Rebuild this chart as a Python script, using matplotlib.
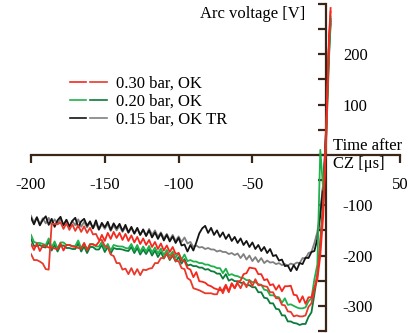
import numpy as np
import matplotlib
matplotlib.use("Agg")
import matplotlib.pyplot as plt
from matplotlib.lines import Line2D
from matplotlib.legend_handler import HandlerTuple
from matplotlib.ticker import FuncFormatter, FixedLocator

plt.rcParams['font.family'] = ['Liberation Serif', 'DejaVu Serif']
plt.rcParams['font.size'] = 12
plt.rcParams['axes.unicode_minus'] = False

# time grid (µs) of the sampled traces: -200 ... -2 every 2 µs, then tail
time_main = list(range(-200, 0, 2))
time_tail = [-1, 0, 1, 2, 3]
time_us = time_main + time_tail

# 0.15 bar, OK TR (black)
v015_a = [-125, -138, -124, -140, -129, -122, -139, -127, -143, -130,
          -123, -140, -129, -143, -131, -125, -144, -132, -127, -141,
          -132, -146, -130, -148, -135, -144, -133, -149, -136, -146,
          -137, -151, -139, -154, -143, -156, -145, -159, -148, -161,
          -150, -164, -154, -167, -156, -170, -159, -172, -162, -175,
          -165, -180, -178, -192, -179, -190, -174, -156, -146, -141,
          -155, -145, -159, -150, -163, -154, -167, -158, -171, -163,
          -175, -166, -179, -171, -183, -174, -187, -179, -191, -183,
          -195, -187, -201, -199, -210, -208, -221, -220, -231, -219,
          -229, -215, -217, -204, -205, -193, -191, -167, -120, -60,
          -10, 60, 150, 230, 270]
# 0.15 bar, OK TR (gray)
v015_b = [-121, -134, -124, -138, -126, -136, -125, -139, -128, -137,
          -127, -139, -129, -142, -131, -140, -128, -143, -133, -144,
          -134, -146, -136, -149, -138, -147, -137, -151, -140, -150,
          -141, -153, -143, -155, -145, -157, -147, -159, -149, -161,
          -147, -159, -150, -163, -154, -166, -157, -169, -159, -171,
          -162, -173, -164, -176, -173, -183, -180, -184, -183, -187,
          -185, -188, -188, -192, -190, -193, -193, -197, -195, -199,
          -196, -205, -197, -208, -200, -211, -203, -213, -205, -215,
          -210, -214, -213, -217, -215, -219, -217, -220, -216, -218,
          -214, -215, -205, -206, -195, -193, -175, -153, -110, -55,
          -5, 55, 140, 220, 265]
# 0.20 bar, OK (light green)
v020_a = [-159, -173, -175, -175, -177, -179, -166, -184, -172, -186,
          -174, -174, -179, -179, -181, -181, -170, -186, -176, -189,
          -177, -177, -182, -182, -173, -187, -177, -190, -179, -181,
          -182, -182, -185, -186, -177, -190, -179, -193, -182, -192,
          -181, -194, -184, -196, -186, -199, -189, -201, -192, -204,
          -195, -208, -198, -211, -209, -212, -212, -215, -215, -218,
          -218, -221, -222, -225, -225, -235, -226, -239, -237, -240,
          -241, -244, -245, -249, -249, -253, -253, -257, -258, -268,
          -269, -279, -279, -282, -283, -294, -285, -298, -297, -300,
          -303, -305, -305, -303, -291, -285, -247, -218, 10, -70,
          -20, 40, 130, 210, 275]
# 0.20 bar, OK (dark green)
v020_b = [-167, -181, -181, -179, -183, -184, -172, -190, -179, -192,
          -180, -180, -185, -185, -187, -187, -176, -192, -182, -195,
          -183, -183, -188, -188, -179, -193, -183, -196, -185, -187,
          -187, -188, -190, -191, -183, -195, -185, -198, -188, -197,
          -187, -200, -190, -203, -193, -206, -196, -209, -200, -212,
          -203, -216, -207, -220, -218, -221, -221, -224, -224, -228,
          -227, -231, -232, -236, -236, -246, -237, -250, -247, -251,
          -251, -254, -255, -259, -259, -263, -263, -273, -273, -284,
          -285, -295, -295, -306, -307, -319, -319, -331, -331, -334,
          -335, -338, -336, -336, -322, -313, -277, -238, -170, -90,
          -25, 30, 120, 200, 260]
# 0.30 bar, OK (red 1)
v030_a = [-177, -189, -176, -191, -180, -181, -184, -184, -186, -187,
          -176, -190, -179, -179, -182, -183, -185, -186, -175, -189,
          -178, -178, -180, -173, -159, -171, -155, -167, -153, -165,
          -155, -169, -157, -171, -160, -174, -163, -177, -166, -179,
          -169, -183, -173, -187, -176, -190, -180, -193, -183, -197,
          -195, -209, -211, -225, -228, -243, -233, -251, -252, -254,
          -259, -261, -265, -267, -269, -269, -258, -271, -256, -265,
          -252, -250, -237, -235, -224, -225, -226, -237, -237, -249,
          -247, -259, -257, -268, -259, -271, -261, -261, -260, -278,
          -279, -293, -281, -296, -283, -283, -265, -248, -200, -120,
          -40, 50, 150, 240, 292]
# 0.30 bar, OK (red 2)
v030_b = [-197, -209, -209, -212, -216, -227, -228, -137, -137, -138,
          -134, -147, -136, -149, -138, -151, -140, -153, -142, -155,
          -145, -158, -157, -169, -169, -181, -183, -198, -201, -215,
          -215, -228, -226, -237, -225, -238, -227, -239, -228, -229,
          -226, -225, -215, -215, -205, -205, -195, -207, -197, -211,
          -211, -225, -227, -245, -249, -265, -267, -269, -272, -275,
          -275, -275, -277, -277, -263, -275, -261, -273, -255, -265,
          -255, -265, -252, -263, -249, -261, -247, -259, -259, -261,
          -262, -273, -273, -285, -285, -298, -299, -311, -312, -321,
          -319, -321, -321, -319, -302, -295, -267, -238, -180, -100,
          -30, 40, 140, 230, 285]

legend_labels = ["0.30 bar, OK", "0.20 bar, OK", "0.15 bar, OK TR"]
x_ticks = [-200, -150, -100, -50, 50]
y_ticks = list(range(-350, 301, 50))

c_red1, c_red2 = '#f5281e', '#e8392b'
c_grn1, c_grn2 = '#1fb14c', '#0b7a3a'
c_blk, c_gry = '#141414', '#808080'
axis_col = '#3a2618'

fig = plt.figure(figsize=(4.09, 3.33), dpi=100)
ax = fig.add_axes([31 / 409, 1 - 331 / 333, 369 / 409, 327 / 333])
ax.set_xlim(-200, 50)
ax.set_ylim(-350, 300)

lw = 1.3
ax.plot(time_us, v015_b, color=c_gry, lw=lw)
ax.plot(time_us, v015_a, color=c_blk, lw=lw)
ax.plot(time_us, v020_b, color=c_grn2, lw=lw)
ax.plot(time_us, v020_a, color=c_grn1, lw=lw)
ax.plot(time_us, v030_b, color=c_red2, lw=lw)
ax.plot(time_us, v030_a, color=c_red1, lw=lw)

for s in ['left', 'right', 'bottom']:
    ax.spines[s].set_position(('data', 0))
ax.spines['top'].set_visible(False)
ax.spines['right'].set_visible(False)
for s in ['left', 'bottom']:
    ax.spines[s].set_color(axis_col)
    ax.spines[s].set_linewidth(1.6)
    ax.spines[s].set_zorder(1)

ax.xaxis.set_major_locator(FixedLocator(x_ticks))
ax.yaxis.set_major_locator(FixedLocator(y_ticks))
ax.yaxis.set_major_formatter(FuncFormatter(
    lambda v, p: f"{int(v)}" if (v % 100 == 0 and v not in (0, 300)) else ""))
ax.xaxis.set_major_formatter(FuncFormatter(lambda v, p: f"{int(v)}"))

ax.tick_params(axis='x', direction='out', length=6, width=1.6, color=axis_col,
               pad=10, labelsize=12)
ax.tick_params(axis='y', left=True, right=False, labelleft=False, labelright=True,
               direction='out', length=6, width=1.6, color=axis_col, pad=6,
               labelsize=12)

ax.text(-14, 280, "Arc voltage [V]", ha='right', va='center', fontsize=12)
ax.text(4.5, 0, "Time after\nCZ [μs]", ha='left', va='center', fontsize=12,
        linespacing=1.15)

handles = [
    (Line2D([], [], color=c_red1, lw=1.2), Line2D([], [], color=c_red2, lw=1.2)),
    (Line2D([], [], color=c_grn1, lw=1.2), Line2D([], [], color=c_grn2, lw=1.2)),
    (Line2D([], [], color=c_blk, lw=1.2), Line2D([], [], color=c_gry, lw=1.2)),
]
ax.legend(handles, legend_labels,
          handler_map={tuple: HandlerTuple(ndivide=None, pad=0.25)},
          loc='upper left', bbox_to_anchor=(70 / 409, 1 - 76 / 333),
          bbox_transform=fig.transFigure, frameon=False, borderpad=0,
          borderaxespad=0, handlelength=2.2, handletextpad=0.55,
          labelspacing=0.1, fontsize=12)

fig.savefig("out.png", dpi=100)
